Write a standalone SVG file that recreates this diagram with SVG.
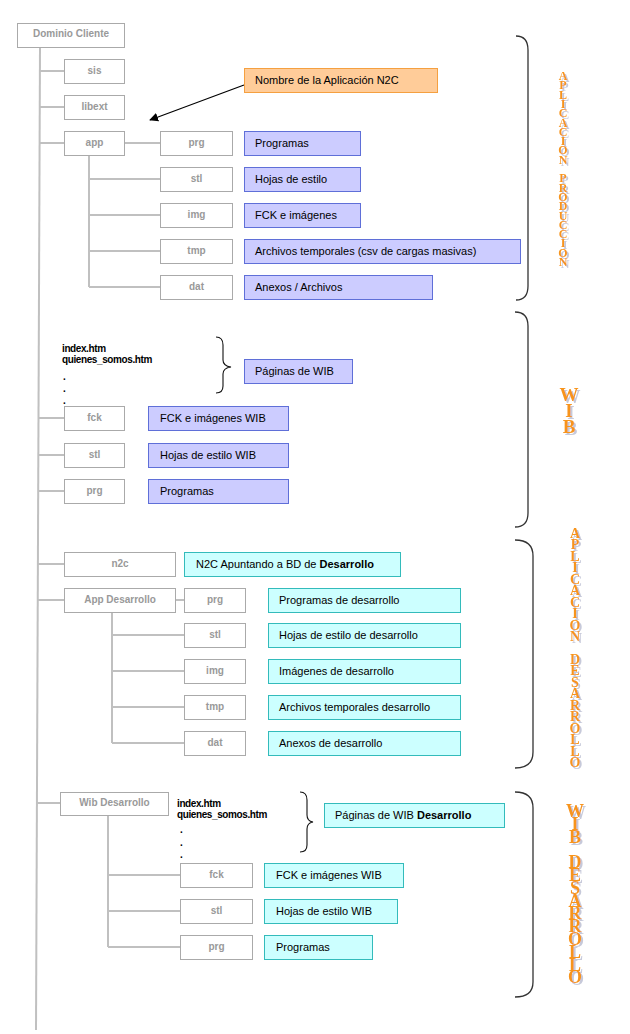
<svg xmlns="http://www.w3.org/2000/svg" width="630" height="1034" viewBox="0 0 630 1034">
<style>
.f{fill:#fff;stroke:#aaa;stroke-width:1}
.ft{font-family:"Liberation Sans",Arial,sans-serif;font-size:10px;font-weight:bold;fill:#999;text-anchor:middle}
.p{fill:#ccccff;stroke:#5f6fd8;stroke-width:1}
.c{fill:#ccffff;stroke:#33bbbb;stroke-width:1}
.o{fill:#ffcc99;stroke:#f5a040;stroke-width:1}
.t{font-family:"Liberation Sans",Arial,sans-serif;font-size:11px;fill:#000}
.b{font-weight:bold}
.fl{font-family:"Liberation Sans",Arial,sans-serif;font-size:10px;font-weight:bold;fill:#000;letter-spacing:-0.4px}
.cn{stroke:#c0c0c0;stroke-width:2;fill:none}
.br{stroke:#333;stroke-width:1.3;fill:none}
.cb{stroke:#111;stroke-width:1.1;fill:none}
.v{font-family:"Liberation Serif","Times New Roman",serif;font-weight:bold;fill:#f7941d;text-anchor:middle;filter:url(#sh)}
</style>
<defs>
<marker id="ah" viewBox="0 0 10 10" refX="9" refY="5" markerWidth="9" markerHeight="9" orient="auto" markerUnits="userSpaceOnUse">
<path d="M0 0 L10 5 L0 10 z" fill="#000"/>
</marker>
<filter id="sh" x="-50%" y="-10%" width="200%" height="120%">
<feDropShadow dx="2" dy="2" stdDeviation="0.6" flood-color="#b8bcd0" flood-opacity="0.8"/>
</filter>
</defs>

<g id="connectors">
<path class="cn" d="M40 47 L36 1030"/>
<path class="cn" d="M40 71 H64 M40 107 H64 M40 143 H64 M124 143 H160 M89 155 V287 M89 179 H160 M89 215 H160 M89 251 H160 M89 287 H160"/>
<path class="cn" d="M39 418 H64 M39 455 H64 M39 491 H64"/>
<path class="cn" d="M38 564 H64 M38 600 H64 M175 600 H184 M112 612 V743 M112 635 H184 M112 671 H184 M112 707 H184 M112 743 H184"/>
<path class="cn" d="M37 803 H60 M108 815 V947 M108 875 H180 M108 911 H180 M108 947 H180"/>
<line x1="244" y1="85" x2="150" y2="120" stroke="#000" stroke-width="1.2" marker-end="url(#ah)"/>
<path class="br" d="M516 36 Q528 36 528 50 L528 286 Q528 300 516 300"/>
<path class="br" d="M515 312 Q528 312 528 326 L528 513 Q528 527 515 527"/>
<path class="br" d="M515 540 Q533 540 533 556 L533 752 Q533 768 515 768"/>
<path class="br" d="M515 792 Q533 792 533 808 L533 982 Q533 997 515 997"/>
<path class="cb" d="M216 337 Q223 337 223 345 L223 360 Q223 366 231 367 Q223 368 223 374 L223 386 Q223 393 216 393"/>
<path class="cb" d="M300 792 Q307 792 307 800 L307 815 Q307 821 313 822 Q307 823 307 829 L307 845 Q307 852 300 852"/>
</g>

<g id="dominio"><rect class="f" x="17.5" y="23.5" width="107" height="24"/><text class="ft" x="71" y="37">Dominio Cliente</text></g>
<g id="sis"><rect class="f" x="64.5" y="59.5" width="60" height="24"/><text class="ft" x="94.5" y="74">sis</text></g>
<g id="libext"><rect class="f" x="64.5" y="95.5" width="60" height="24"/><text class="ft" x="94.5" y="110">libext</text></g>
<g id="app"><rect class="f" x="64.5" y="131.5" width="60" height="24"/><text class="ft" x="94.5" y="146">app</text></g>
<g id="app-prg"><rect class="f" x="160.5" y="131.5" width="72" height="24"/><text class="ft" x="196.5" y="146">prg</text></g>
<g id="app-stl"><rect class="f" x="160.5" y="167.5" width="72" height="24"/><text class="ft" x="196.5" y="182">stl</text></g>
<g id="app-img"><rect class="f" x="160.5" y="203.5" width="72" height="24"/><text class="ft" x="196.5" y="218">img</text></g>
<g id="app-tmp"><rect class="f" x="160.5" y="239.5" width="72" height="24"/><text class="ft" x="196.5" y="254">tmp</text></g>
<g id="app-dat"><rect class="f" x="160.5" y="275.5" width="72" height="24"/><text class="ft" x="196.5" y="290">dat</text></g>

<g id="nombre"><rect class="o" x="244.5" y="68.5" width="193" height="24"/><text class="t" x="255" y="84">Nombre de la Aplicación N2C</text></g>
<g id="d-programas"><rect class="p" x="244.5" y="131.5" width="116" height="24"/><text class="t" x="255" y="147">Programas</text></g>
<g id="d-hojas"><rect class="p" x="244.5" y="167.5" width="116" height="24"/><text class="t" x="255" y="183">Hojas de estilo</text></g>
<g id="d-fck"><rect class="p" x="244.5" y="203.5" width="116" height="24"/><text class="t" x="255" y="219">FCK e imágenes</text></g>
<g id="d-tmp"><rect class="p" x="244.5" y="239.5" width="276" height="24"/><text class="t" x="255" y="255">Archivos temporales (csv de cargas masivas)</text></g>
<g id="d-dat"><rect class="p" x="244.5" y="275.5" width="188" height="24"/><text class="t" x="255" y="291">Anexos / Archivos</text></g>

<g id="label-prod"><text class="v" font-size="12"><tspan x="563" y="80">A</tspan><tspan x="563" dy="9.3">P</tspan><tspan x="563" dy="9.3">L</tspan><tspan x="563" dy="9.3">I</tspan><tspan x="563" dy="9.3">C</tspan><tspan x="563" dy="9.3">A</tspan><tspan x="563" dy="9.3">C</tspan><tspan x="563" dy="9.3">I</tspan><tspan x="563" dy="9.3">O</tspan><tspan x="563" dy="9.3">N</tspan><tspan x="563" dy="18.6">P</tspan><tspan x="563" dy="9.3">R</tspan><tspan x="563" dy="9.3">O</tspan><tspan x="563" dy="9.3">D</tspan><tspan x="563" dy="9.3">U</tspan><tspan x="563" dy="9.3">C</tspan><tspan x="563" dy="9.3">C</tspan><tspan x="563" dy="9.3">I</tspan><tspan x="563" dy="9.3">O</tspan><tspan x="563" dy="9.3">N</tspan></text></g>

<g id="wib-files"><text class="fl" x="62" y="352">index.htm</text><text class="fl" x="62" y="363">quienes_somos.htm</text><text class="fl" x="63" y="380">.</text><text class="fl" x="63" y="392">.</text><text class="fl" x="63" y="404">.</text></g>
<g id="paginas-wib"><rect class="p" x="244.5" y="359.5" width="108" height="24"/><text class="t" x="255" y="375">Páginas de WIB</text></g>
<g id="wib-fck"><rect class="f" x="64.5" y="406.5" width="60" height="24"/><text class="ft" x="94.5" y="421">fck</text></g>
<g id="wib-stl"><rect class="f" x="64.5" y="443.5" width="60" height="24"/><text class="ft" x="94.5" y="458">stl</text></g>
<g id="wib-prg"><rect class="f" x="64.5" y="479.5" width="60" height="24"/><text class="ft" x="94.5" y="494">prg</text></g>
<g id="d-wib-fck"><rect class="p" x="148.5" y="406.5" width="140" height="24"/><text class="t" x="160" y="422">FCK e imágenes WIB</text></g>
<g id="d-wib-stl"><rect class="p" x="148.5" y="443.5" width="140" height="24"/><text class="t" x="160" y="459">Hojas de estilo WIB</text></g>
<g id="d-wib-prg"><rect class="p" x="148.5" y="479.5" width="140" height="24"/><text class="t" x="160" y="495">Programas</text></g>
<g id="label-wib"><text class="v" font-size="19"><tspan x="569" y="401">W</tspan><tspan x="569" dy="16">I</tspan><tspan x="569" dy="16">B</tspan></text></g>

<g id="n2c"><rect class="f" x="64.5" y="552.5" width="111" height="24"/><text class="ft" x="120" y="567">n2c</text></g>
<g id="d-n2c"><rect class="c" x="184.5" y="552.5" width="216" height="24"/><text class="t" x="196" y="568">N2C Apuntando a BD de <tspan class="b">Desarrollo</tspan></text></g>
<g id="appdes"><rect class="f" x="64.5" y="588.5" width="111" height="24"/><text class="ft" x="120" y="603">App Desarrollo</text></g>
<g id="ad-prg"><rect class="f" x="184.5" y="588.5" width="61" height="24"/><text class="ft" x="215" y="603">prg</text></g>
<g id="ad-stl"><rect class="f" x="184.5" y="623.5" width="61" height="24"/><text class="ft" x="215" y="638">stl</text></g>
<g id="ad-img"><rect class="f" x="184.5" y="659.5" width="61" height="24"/><text class="ft" x="215" y="674">img</text></g>
<g id="ad-tmp"><rect class="f" x="184.5" y="695.5" width="61" height="24"/><text class="ft" x="215" y="710">tmp</text></g>
<g id="ad-dat"><rect class="f" x="184.5" y="731.5" width="61" height="24"/><text class="ft" x="215" y="746">dat</text></g>
<g id="d-ad-prg"><rect class="c" x="268.5" y="588.5" width="192" height="24"/><text class="t" x="279" y="604">Programas de desarrollo</text></g>
<g id="d-ad-stl"><rect class="c" x="268.5" y="623.5" width="192" height="24"/><text class="t" x="279" y="639">Hojas de estilo de desarrollo</text></g>
<g id="d-ad-img"><rect class="c" x="268.5" y="659.5" width="192" height="24"/><text class="t" x="279" y="675">Imágenes de desarrollo</text></g>
<g id="d-ad-tmp"><rect class="c" x="268.5" y="695.5" width="192" height="24"/><text class="t" x="279" y="711">Archivos temporales desarrollo</text></g>
<g id="d-ad-dat"><rect class="c" x="268.5" y="731.5" width="192" height="24"/><text class="t" x="279" y="747">Anexos de desarrollo</text></g>
<g id="label-appdes"><text class="v" font-size="14"><tspan x="575" y="538">A</tspan><tspan x="575" dy="11.45">P</tspan><tspan x="575" dy="11.45">L</tspan><tspan x="575" dy="11.45">I</tspan><tspan x="575" dy="11.45">C</tspan><tspan x="575" dy="11.45">A</tspan><tspan x="575" dy="11.45">C</tspan><tspan x="575" dy="11.45">I</tspan><tspan x="575" dy="11.45">O</tspan><tspan x="575" dy="11.45">N</tspan><tspan x="575" dy="22.9">D</tspan><tspan x="575" dy="11.45">E</tspan><tspan x="575" dy="11.45">S</tspan><tspan x="575" dy="11.45">A</tspan><tspan x="575" dy="11.45">R</tspan><tspan x="575" dy="11.45">R</tspan><tspan x="575" dy="11.45">O</tspan><tspan x="575" dy="11.45">L</tspan><tspan x="575" dy="11.45">L</tspan><tspan x="575" dy="11.45">O</tspan></text></g>

<g id="wibdes"><rect class="f" x="60.5" y="792.5" width="108" height="23"/><text class="ft" x="114.5" y="806">Wib Desarrollo</text></g>
<g id="wibdes-files"><text class="fl" x="177" y="807">index.htm</text><text class="fl" x="177" y="818">quienes_somos.htm</text><text class="fl" x="180" y="833">.</text><text class="fl" x="180" y="846">.</text><text class="fl" x="180" y="858">.</text></g>
<g id="paginas-wibdes"><rect class="c" x="324.5" y="803.5" width="180" height="24"/><text class="t" x="335" y="819">Páginas de WIB <tspan class="b">Desarrollo</tspan></text></g>
<g id="wd-fck"><rect class="f" x="180.5" y="863.5" width="72" height="24"/><text class="ft" x="216.5" y="878">fck</text></g>
<g id="wd-stl"><rect class="f" x="180.5" y="899.5" width="72" height="24"/><text class="ft" x="216.5" y="914">stl</text></g>
<g id="wd-prg"><rect class="f" x="180.5" y="935.5" width="72" height="24"/><text class="ft" x="216.5" y="950">prg</text></g>
<g id="d-wd-fck"><rect class="c" x="264.5" y="863.5" width="139" height="24"/><text class="t" x="276" y="879">FCK e imágenes WIB</text></g>
<g id="d-wd-stl"><rect class="c" x="264.5" y="899.5" width="133" height="24"/><text class="t" x="276" y="915">Hojas de estilo WIB</text></g>
<g id="d-wd-prg"><rect class="c" x="264.5" y="935.5" width="108" height="24"/><text class="t" x="276" y="951">Programas</text></g>
<g id="label-wibdes"><text class="v" font-size="18"><tspan x="575" y="817">W</tspan><tspan x="575" dy="12.8">I</tspan><tspan x="575" dy="12.8">B</tspan><tspan x="575" dy="25.6">D</tspan><tspan x="575" dy="12.8">E</tspan><tspan x="575" dy="12.8">S</tspan><tspan x="575" dy="12.8">A</tspan><tspan x="575" dy="12.8">R</tspan><tspan x="575" dy="12.8">R</tspan><tspan x="575" dy="12.8">O</tspan><tspan x="575" dy="12.8">L</tspan><tspan x="575" dy="12.8">L</tspan><tspan x="575" dy="12.8">O</tspan></text></g>
</svg>
